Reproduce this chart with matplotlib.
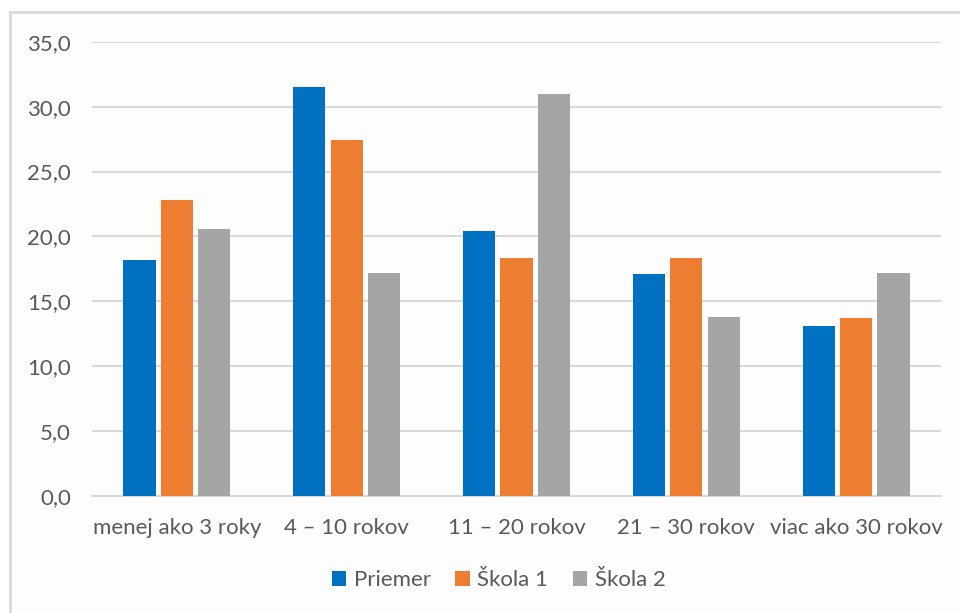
import numpy as np
import matplotlib.pyplot as plt
from matplotlib.patches import Rectangle

categories = ["menej ako 3 roky", "4 – 10 rokov", "11 – 20 rokov", "21 – 30 rokov", "viac ako 30 rokov"]
series_names = ["Priemer", "Škola 1", "Škola 2"]
priemer = [18.2, 31.5, 20.4, 17.1, 13.1]
skola1 = [22.8, 27.4, 18.3, 18.3, 13.7]
skola2 = [20.6, 17.2, 31.0, 13.8, 17.2]
yticks = [0, 5, 10, 15, 20, 25, 30, 35]

colors = ["#0070C0", "#ED7D31", "#A5A5A5"]
text_color = "#595959"
grid_color = "#D9D9D9"

plt.rcParams['font.family'] = ['Lato', 'DejaVu Sans']

W, H = 960, 613
fig = plt.figure(figsize=(W / 100, H / 100), dpi=100)
fig.patch.set_facecolor("white")

# chart frame (left and top edges visible)
fig.patches.append(Rectangle((10 / W, -0.05), 1.0, (H - 12) / H + 0.05,
                             transform=fig.transFigure, facecolor="#FDFDFD",
                             edgecolor=grid_color, linewidth=2, zorder=-10))

ax = fig.add_axes([92 / W, (H - 496) / H, (941 - 92) / W, (496 - 41.7) / H])
ax.set_zorder(1)
ax.set_facecolor("none")

x = np.arange(len(categories))
width = 0.19
step = 0.22
for i, (vals, name) in enumerate(zip([priemer, skola1, skola2], series_names)):
    ax.bar(x + (i - 1) * step, vals, width, color=colors[i], label=name, zorder=3)

ax.set_xlim(-0.5, len(categories) - 0.5)
ax.set_ylim(0, 35)
ax.set_yticks(yticks)
ax.set_yticklabels([f"{v:.1f}".replace(".", ",") for v in yticks])
ax.set_xticks(x)
ax.set_xticklabels(categories)
ax.yaxis.grid(True, color=grid_color, linewidth=1.5, zorder=0)
ax.set_axisbelow(True)
for s in ["top", "right", "left"]:
    ax.spines[s].set_visible(False)
ax.spines["bottom"].set_color(grid_color)
ax.spines["bottom"].set_linewidth(1.5)
ax.tick_params(axis="both", length=0, colors=text_color, labelsize=16)
ax.tick_params(axis="y", pad=15)
ax.tick_params(axis="x", pad=16)

ax.legend(loc="center", bbox_to_anchor=(0.479, -0.185), ncol=3, frameon=False,
          fontsize=16, labelcolor=text_color, handlelength=0.65, handleheight=0.65,
          handletextpad=0.35, columnspacing=1.1)

fig.savefig("out.png", dpi=100)
